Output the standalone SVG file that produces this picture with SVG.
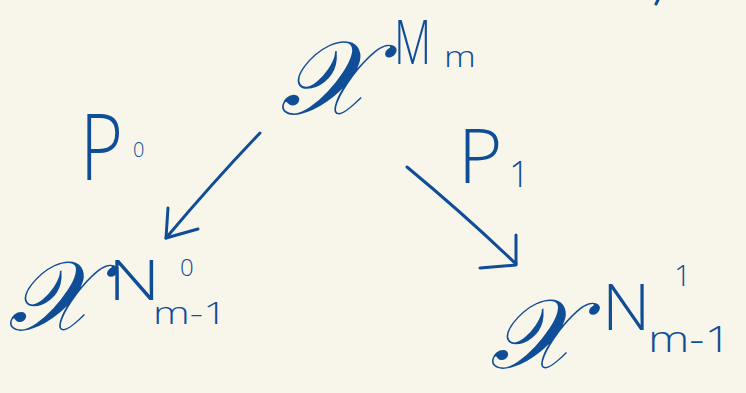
<svg xmlns="http://www.w3.org/2000/svg" width="746" height="393" viewBox="0 0 746 393">
<style>
.ink{fill:#104d97;}
.sym{font-family:"DejaVu Serif","Liberation Serif",serif;font-style:italic;}
.hand{font-family:"Open Sans","DejaVu Sans",sans-serif;font-weight:300;}
.ln{stroke:#104d97;stroke-width:3;fill:none;stroke-linecap:round;stroke-linejoin:round;}
</style>
<rect width="746" height="393" fill="#f8f5ea"/>
<g id="node-top">
<text class="ink sym" x="280" y="114" font-size="104">𝒳</text>
<text class="ink hand" font-size="60" transform="translate(394 64) scale(0.72 1)">M</text>
<text class="ink hand" font-size="30" transform="translate(444 67) scale(1.2 1)">m</text>
</g>
<g id="node-left">
<text class="ink sym" x="8" y="330" font-size="98">𝒳</text>
<text class="ink hand" font-size="56" transform="translate(108 300) scale(1.3 1)">N</text>
<text class="ink hand" x="180" y="276" font-size="24">0</text>
<text class="ink hand" font-size="32" transform="translate(153 324) scale(1.3 1)">m-1</text>
</g>
<g id="node-right">
<text class="ink sym" x="490" y="368" font-size="98">𝒳</text>
<text class="ink hand" font-size="64" transform="translate(602 330) scale(1.05 1)">N</text>
<text class="ink hand" x="674" y="286" font-size="30">1</text>
<text class="ink hand" font-size="36" transform="translate(648 352) scale(1.3 1)">m-1</text>
</g>
<g id="label-p0">
<text class="ink hand" font-size="92" transform="translate(80 180) scale(0.8 1)">P</text>
<text class="ink hand" x="133" y="157" font-size="20">0</text>
</g>
<g id="label-p1">
<text class="ink hand" font-size="76" transform="translate(458 183) scale(1 1)">P</text>
<text class="ink hand" x="509" y="187" font-size="36">1</text>
</g>
<g id="connectors">
<path class="ln" d="M260 133 Q215 180 166 238"/>
<path class="ln" d="M168 208 L166 238 L198 229"/>
<path class="ln" d="M407 167 Q465 215 516 264"/>
<path class="ln" d="M516 235 L516 265 L480 268"/>
</g>
<path class="ln" d="M658 0 L656 4"/>
</svg>
